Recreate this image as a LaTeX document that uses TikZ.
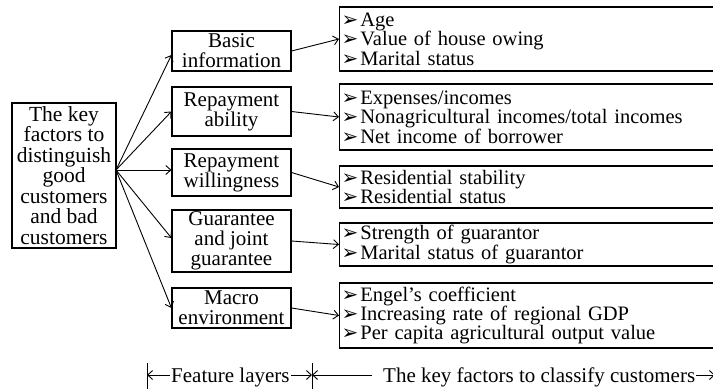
\documentclass[tikz,border=0pt]{standalone}
\usepackage{fontspec}
\setmainfont{Liberation Serif}
\newfontfamily\dejavu{DejaVu Sans}
\usetikzlibrary{arrows.meta}
\newcommand\rbul{{\dejavu\fontsize{20}{16}\selectfont ➢}\hspace{2pt}}
\begin{document}
\begin{tikzpicture}[x=1pt,y=-1pt,
  txt/.style={font=\fontsize{21}{20}\selectfont, inner sep=1pt},
  lbox/.style={draw, line width=1.1pt, align=center, inner sep=0pt, font=\fontsize{21.5}{20.5}\selectfont},
  mbox/.style={draw, line width=1.1pt, minimum width=119pt, align=center, inner sep=0pt, font=\fontsize{21}{20}\selectfont},
  rbox/.style={draw, line width=1.3pt, anchor=west, align=left, text width=420pt, inner xsep=2pt, inner ysep=0pt, font=\fontsize{20.5}{19.4}\selectfont},
  conn/.style={-{Straight Barb[length=5pt,width=9pt]}, line width=0.9pt},
  barline/.style={line width=0.9pt}]
\useasboundingbox (0,0) rectangle (713,389);
\fill[white] (0,0) rectangle (713,389);
\clip (0,0) rectangle (713,389);

% left box
\node[lbox, minimum width=104pt, minimum height=145pt] (L) at (64,175.5)
  {The key\\factors to\\distinguish\\good\\customers\\and bad\\customers};
\coordinate (fan) at (116,170);

% middle boxes
\node[mbox, minimum height=40pt] (M1) at (231.5,51) {Basic\\information};
\node[mbox, minimum height=49pt] (M2) at (231.5,111.5) {Repayment\\ability};
\node[mbox, minimum height=47pt] (M3) at (231.5,172.5) {Repayment\\willingness};
\node[mbox, minimum height=62pt] (M4) at (231.5,241) {Guarantee\\and joint\\guarantee};
\node[mbox, minimum height=40pt] (M5) at (231.5,308) {Macro\\environment};

% right boxes
\node[rbox, minimum height=64pt] (R1) at (339,39)
  {\rbul Age\\\rbul Value of house owing\\\rbul Marital status};
\node[rbox, minimum height=66pt] (R2) at (339,117)
  {\rbul Expenses/incomes\\\rbul Nonagricultural incomes/total incomes\\\rbul Net income of borrower};
\node[rbox, minimum height=42pt] (R3) at (339,187)
  {\rbul Residential stability\\\rbul Residential status};
\node[rbox, minimum height=43pt] (R4) at (339,244.5)
  {\rbul Strength of guarantor\\\rbul Marital status of guarantor};
\node[rbox, minimum height=65pt] (R5) at (339,315.5)
  {\rbul Engel’s coefficient\\\rbul Increasing rate of regional GDP\\\rbul Per capita agricultural output value};

% fan arrows
\draw[conn] (fan) -- ([yshift=-4pt]M1.west);
\draw[conn] (fan) -- (M2.west);
\draw[conn] (fan) -- (M3.west |- fan);
\draw[conn] (fan) -- ([yshift=3pt]M4.west);
\draw[conn] (fan) -- (M5.west);

% middle to right arrows
\foreach \i in {1,...,5} {\draw[conn] (M\i.east) -- (R\i.west);}

% bottom scale
\coordinate (b1) at (147,375);
\coordinate (b2) at (312,375);
\coordinate (b3) at (715,375);
\draw[barline] ([yshift=12pt]b1) -- ([yshift=-14pt]b1);
\draw[barline] ([yshift=12pt]b2) -- ([yshift=-14pt]b2);
\draw[barline] ([yshift=12pt]b3) -- ([yshift=-14pt]b3);
\node[txt, anchor=base west] (fl) at (170,382) {Feature layers};
\node[txt, anchor=base west] (kf) at (382,382) {The key factors to classify customers};
\coordinate (kfw) at (kf.west |- b2);
\draw[conn] (fl.west |- b1) -- (b1);
\draw[conn] (fl.east |- b2) -- (b2);
\draw[conn] ([xshift=-10pt]kfw) -- (b2);
\draw[conn] (kf.east |- b3) -- (b3);
\end{tikzpicture}
\end{document}
